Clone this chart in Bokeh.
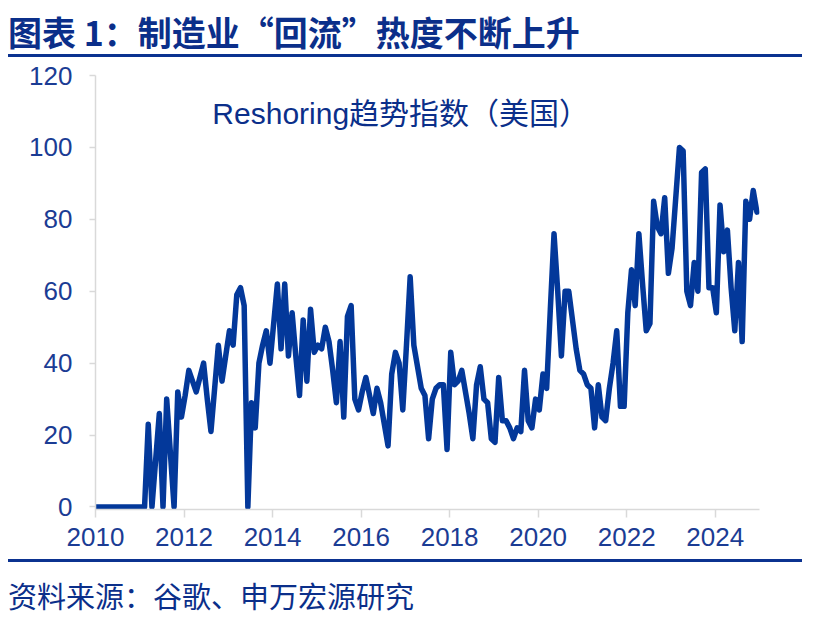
from bokeh.plotting import figure
from bokeh.models import Range1d, FixedTicker, Label, Div
from bokeh.layouts import column
from bokeh.embed import file_html
from bokeh.resources import INLINE

# ---------------- data (monthly index, Jan 2010 - Dec 2024) ----------------
v2010 = [0, 0, 0, 0, 0, 0, 0, 0, 0, 0, 0, 0]
v2011 = [0, 0, 23, 0, 13, 26, 0, 30, 15, 0, 32, 25]
v2012 = [31, 38, 35, 32, 36, 40, 30, 21, 33, 45, 35, 42]
v2013 = [49, 45, 59, 61, 56, 0, 29, 22, 40, 45, 49, 40]
v2014 = [51, 62, 44, 62, 42, 54, 42, 31, 52, 35, 55, 43]
v2015 = [45, 44, 50, 46, 38, 29, 46, 25, 53, 56, 30, 27]
v2016 = [32, 36, 31, 26, 33, 29, 23, 17, 37, 43, 40, 27]
v2017 = [45, 64, 45, 39, 33, 31, 19, 30, 33, 34, 34, 16]
v2018 = [43, 34, 35, 38, 32, 26, 19, 34, 39, 30, 29, 19]
v2019 = [18, 36, 24, 24, 22, 19, 22, 21, 38, 24, 22, 30]
v2020 = [27, 37, 33, 55, 76, 60, 42, 60, 60, 52, 44, 38]
v2021 = [37, 34, 33, 22, 34, 25, 24, 33, 40, 49, 28, 28]
v2022 = [54, 66, 56, 76, 62, 49, 51, 85, 78, 76, 86, 65]
v2023 = [72, 86, 100, 99, 60, 56, 68, 60, 93, 94, 61, 61]
v2024 = [54, 84, 71, 77, 61, 49, 68, 46, 85, 80, 88, 82]

years = list(range(2010, 2025))
yearly = [v2010, v2011, v2012, v2013, v2014, v2015, v2016, v2017,
          v2018, v2019, v2020, v2021, v2022, v2023, v2024]

x_ticks = [2010, 2012, 2014, 2016, 2018, 2020, 2022, 2024]
x_tick_labels = ["2010", "2012", "2014", "2016", "2018", "2020", "2022", "2024"]
y_ticks = [0, 20, 40, 60, 80, 100, 120]
y_tick_labels = ["0", "20", "40", "60", "80", "100", "120"]

title_text = "图表 1：制造业“回流”热度不断上升"
series_name = "Reshoring趋势指数（美国）"
source_text = "资料来源：谷歌、申万宏源研究"

xs, ys = [], []
for yr, vals in zip(years, yearly):
    for m, v in enumerate(vals):
        xs.append(yr + (m + 0.3) / 12.0)
        ys.append(v)

# ---------------- styles ----------------
LINE_COLOR = "#03389a"
TEXT_COLOR = "#0b2f8a"
LABEL_COLOR = "#1b3c94"
AXIS_COLOR = "#d9d9d9"

title_html = (
    '<div style="box-sizing:border-box;width:794px;height:49px;padding-top:7px;'
    'border-bottom:3px solid #0b3290;font-family:\'Noto Sans CJK SC\';font-weight:bold;'
    f'font-size:34px;line-height:34px;color:{TEXT_COLOR};white-space:nowrap;">{title_text}</div>'
)
title_div = Div(text=title_html, width=798, height=49, margin=(0, 0, 0, 0))

p = figure(width=798, height=502, output_backend="svg", toolbar_location=None,
           x_range=Range1d(2010, 2025), y_range=Range1d(-0.7, 120),
           min_border_left=87, min_border_right=47, min_border_top=18, min_border_bottom=50)
p.background_fill_color = None
p.border_fill_color = None
p.outline_line_color = None
p.grid.visible = False

p.line(xs, ys, line_color=LINE_COLOR, line_width=5.5, line_join="round", line_cap="round")

p.xaxis.ticker = FixedTicker(ticks=x_ticks)
p.xaxis.major_label_overrides = dict(zip(x_ticks, x_tick_labels))
p.yaxis.ticker = FixedTicker(ticks=y_ticks)
p.yaxis.major_label_overrides = dict(zip(y_ticks, y_tick_labels))

for ax in (p.xaxis[0], p.yaxis[0]):
    ax.axis_line_color = AXIS_COLOR
    ax.axis_line_width = 1.5
    ax.major_tick_line_color = AXIS_COLOR
    ax.major_tick_line_width = 1.5
    ax.minor_tick_line_color = None
    ax.major_tick_in = 0
    ax.major_label_text_font = "Liberation Sans"
    ax.major_label_text_font_size = "26px"
    ax.major_label_text_color = LABEL_COLOR
p.xaxis.major_tick_out = 8
p.xaxis.major_label_standoff = 10
p.yaxis.major_tick_out = 6
p.yaxis.major_label_standoff = 17

lab = Label(x=2012.64, y=109.4, text=series_name, text_align="left", text_baseline="middle",
            text_font="'Liberation Sans', 'Noto Sans CJK SC'", text_font_size="30px",
            text_color=TEXT_COLOR)
p.add_layout(lab)

source_html = (
    '<div style="box-sizing:border-box;width:794px;height:55px;padding-top:19px;'
    'border-top:3px solid #0b3290;font-family:\'Noto Sans CJK SC\';'
    f'font-size:29px;line-height:29px;color:{TEXT_COLOR};white-space:nowrap;">{source_text}</div>'
)
source_div = Div(text=source_html, width=798, height=55, margin=(0, 0, 0, 0))

layout = column(title_div, p, source_div, spacing=0, margin=(8, 8, 0, 8))
open("out.html", "w").write(file_html(layout, INLINE))
